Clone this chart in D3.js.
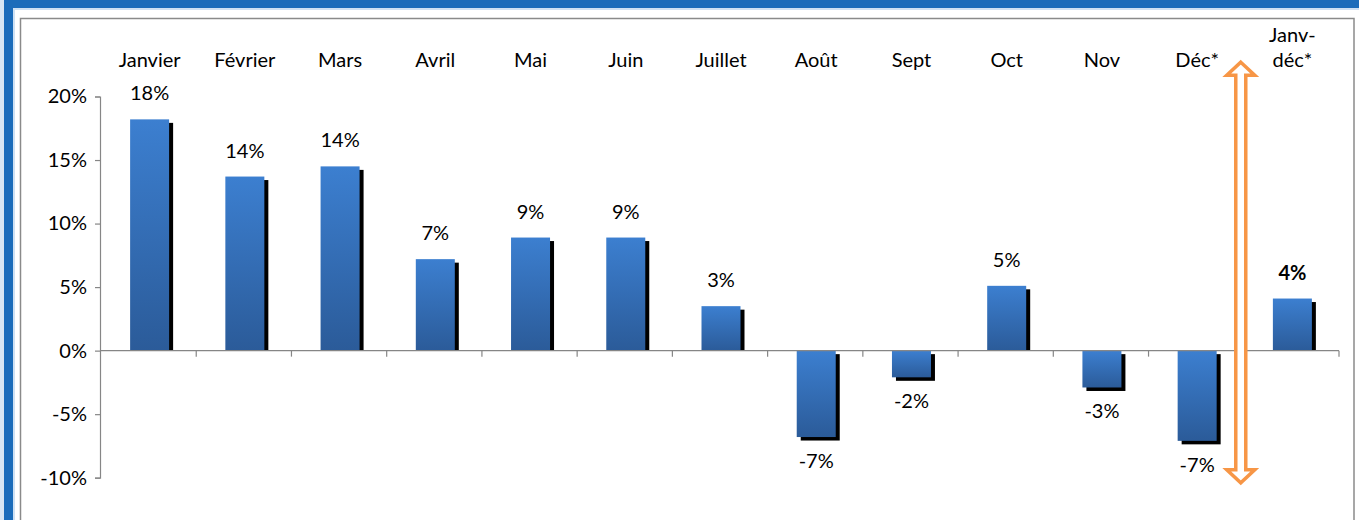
<!DOCTYPE html>
<html><head><meta charset="utf-8">
<script src="https://cdn.jsdelivr.net/npm/d3@7"></script>
<style>
html,body{margin:0;padding:0;background:#fff;}
svg{display:block;}
text{font-family:Lato,"Open Sans",sans-serif;fill:#000;}
</style></head>
<body>
<svg id="chart" width="1359" height="520"></svg>
<script>
// ---- data ----
const categories = ["Janvier","Février","Mars","Avril","Mai","Juin","Juillet","Août","Sept","Oct","Nov","Déc*","Janv-déc*"];
const values = [18.2, 13.7, 14.5, 7.2, 8.9, 8.9, 3.5, -6.8, -2.1, 5.1, -2.9, -7.1, 4.1];
const valueLabels = ["18%","14%","14%","7%","9%","9%","3%","-7%","-2%","5%","-3%","-7%","4%"];
const yTicks = [-10, -5, 0, 5, 10, 15, 20];

// ---- layout ----
const W = 1359, H = 520;
const svg = d3.select("#chart");
const fs = 20;

// outer blue frame
svg.append("rect").attr("x",0).attr("y",0).attr("width",W).attr("height",H).attr("fill","#d9e6f3");
svg.append("rect").attr("x",4).attr("y",0).attr("width",W-4).attr("height",H).attr("fill","#1c6cba");
svg.append("rect").attr("x",13).attr("y",8).attr("width",W-13).attr("height",H).attr("fill","#cfe1f3");
svg.append("rect").attr("x",15).attr("y",10).attr("width",W-15).attr("height",H).attr("fill","#ffffff");
svg.append("rect").attr("x",20.5).attr("y",18.5).attr("width",1333.5).attr("height",H+20)
  .attr("fill","#fff").attr("stroke","#8a8a8a").attr("stroke-width",1.5);

const x = d3.scaleBand().domain(categories).range([101, 1339]).paddingInner(0).paddingOuter(0);
const y = d3.scaleLinear().domain([-10, 20]).range([477.7, 96.5]);
const barW = 39;
const sdx = 4, sdy = 3.5;

// gradient
const defs = svg.append("defs");
const g = defs.append("linearGradient").attr("id","barGrad").attr("x1",0).attr("y1",0).attr("x2",0).attr("y2",1);
g.append("stop").attr("offset","0%").attr("stop-color","#3c7fd0");
g.append("stop").attr("offset","100%").attr("stop-color","#2b5b99");

// y axis
const yAxis = d3.axisLeft(y).tickValues(yTicks).tickSize(5).tickPadding(8).tickFormat(d => d + "%");
const ya = svg.append("g").attr("transform","translate(100,0)").call(yAxis);
ya.select(".domain").attr("stroke","#868686").attr("stroke-width",1.2);
ya.selectAll(".tick line").attr("stroke","#868686").attr("stroke-width",1.2);
ya.selectAll(".tick text").attr("font-size",fs).attr("font-family","Lato").attr("fill","#000");

// bars
const bars = svg.append("g");
categories.forEach((c, i) => {
  const v = values[i];
  const cx = x(c) + x.bandwidth()/2 + 1;
  const top = y(Math.max(0, v)), bot = y(Math.min(0, v));
  const h = bot - top;
  if (v >= 0) {
    bars.append("rect").attr("x", cx - barW/2 + sdx).attr("y", top + sdy)
      .attr("width", barW).attr("height", Math.max(0, h - sdy)).attr("fill","#000");
  } else {
    bars.append("rect").attr("x", cx - barW/2 + sdx).attr("y", top + sdy)
      .attr("width", barW).attr("height", h).attr("fill","#000");
  }
  bars.append("rect").attr("x", cx - barW/2).attr("y", top)
    .attr("width", barW).attr("height", h).attr("fill","url(#barGrad)");
  const lbl = bars.append("text").attr("x", cx).attr("text-anchor","middle")
    .attr("font-size", fs).text(valueLabels[i]);
  if (v >= 0) lbl.attr("y", top - 19); else lbl.attr("y", bot + 31);
  if (i === categories.length - 1) lbl.attr("font-weight","bold");
});

// x axis (zero line with ticks at band boundaries)
const xa = svg.append("g");
xa.append("line").attr("x1",100).attr("x2",1339).attr("y1",y(0)).attr("y2",y(0))
  .attr("stroke","#868686").attr("stroke-width",1.2);
const bounds = categories.map(c => x(c)).concat([x.range()[1]]);
bounds.slice(1).forEach(b => {
  xa.append("line").attr("x1",b).attr("x2",b).attr("y1",y(0)).attr("y2",y(0)+6)
    .attr("stroke","#868686").attr("stroke-width",1.2);
});

// category labels at top
categories.forEach((c, i) => {
  const cx = x(c) + x.bandwidth()/2 + 1;
  if (c === "Janv-déc*") {
    svg.append("text").attr("x",cx).attr("y",42).attr("text-anchor","middle").attr("font-size",fs).text("Janv-");
    svg.append("text").attr("x",cx).attr("y",67).attr("text-anchor","middle").attr("font-size",fs).text("déc*");
  } else {
    svg.append("text").attr("x",cx).attr("y",67).attr("text-anchor","middle").attr("font-size",fs).text(c);
  }
});

// double-headed hollow arrow
const ax = x(categories[12]) - 3;
const yTop = y(22.7), yBot = y(-10.4);
const hw = 14, sw = 5, hh = 13;
const pts = [
  [ax, yTop], [ax+hw, yTop+hh], [ax+sw, yTop+hh], [ax+sw, yBot-hh], [ax+hw, yBot-hh],
  [ax, yBot], [ax-hw, yBot-hh], [ax-sw, yBot-hh], [ax-sw, yTop+hh], [ax-hw, yTop+hh]
];
svg.append("path").attr("d", d3.line()(pts) + "Z")
  .attr("fill","#fff").attr("stroke","#f79646").attr("stroke-width",3.5).attr("stroke-linejoin","miter");
</script>
</body></html>
